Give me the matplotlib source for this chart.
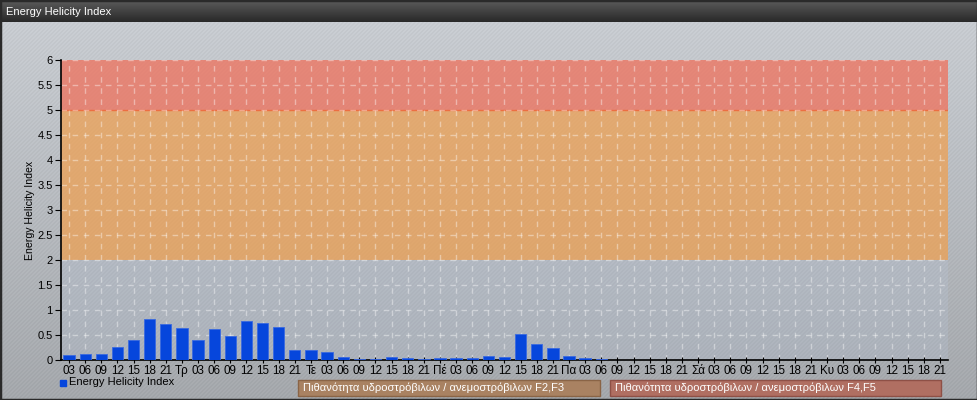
import numpy as np
import matplotlib
matplotlib.use("Agg")
import matplotlib.pyplot as plt
from matplotlib.patches import Rectangle

plt.rcParams['font.family'] = ['Liberation Sans', 'DejaVu Sans']

# ---- data ----
tick_labels = ["03", "06", "09", "12", "15", "18", "21", "Τρ",
               "03", "06", "09", "12", "15", "18", "21", "Τε",
               "03", "06", "09", "12", "15", "18", "21", "Πέ",
               "03", "06", "09", "12", "15", "18", "21", "Πα",
               "03", "06", "09", "12", "15", "18", "21", "Σά",
               "03", "06", "09", "12", "15", "18", "21", "Κυ",
               "03", "06", "09", "12", "15", "18", "21"]
values = [0.10, 0.12, 0.13, 0.26, 0.41, 0.83, 0.73, 0.64,
          0.40, 0.62, 0.49, 0.79, 0.75, 0.67, 0.20, 0.20,
          0.16, 0.07, 0.03, 0.03, 0.06, 0.05, 0.02, 0.04,
          0.04, 0.04, 0.09, 0.07, 0.53, 0.33, 0.25, 0.08,
          0.05, 0.02, 0.01, 0.01, 0.01, 0.01, 0.01, 0.01,
          0.01, 0.01, 0.01, 0.01, 0.01, 0.01, 0.01, 0.01,
          0.01, 0.01, 0.01, 0.01, 0.01, 0.01, 0.01]
series_name = "Energy Helicity Index"
title = "Energy Helicity Index"
band_labels = ["Πιθανότητα υδροστρόβιλων / ανεμοστρόβιλων F2,F3",
               "Πιθανότητα υδροστρόβιλων / ανεμοστρόβιλων F4,F5"]
yticks = [0, 0.5, 1, 1.5, 2, 2.5, 3, 3.5, 4, 4.5, 5, 5.5, 6]
ytick_labels = ["0", "0.5", "1", "1.5", "2", "2.5", "3", "3.5", "4", "4.5", "5", "5.5", "6"]

FS = 8.0
W, H = 978, 400
fig = plt.figure(figsize=(W / 100, H / 100), dpi=100)

def px_axes(x0, y0, x1, y1, **kw):
    return fig.add_axes([x0 / W, 1 - y1 / H, (x1 - x0) / W, (y1 - y0) / H], **kw)

# ---- background with gradient + diagonal stripes ----
bg = fig.add_axes([0, 0, 1, 1], zorder=-10)
yy, xx = np.mgrid[0:H, 0:W]
grad = 0.82 - 0.15 * (yy / H)
stripes = ((xx + yy) % 4 < 2) * 0.025
base = grad - stripes
rgb = np.stack([base * 0.98, base * 1.0, base * 1.025], axis=-1).clip(0, 1)
bg.imshow(rgb, extent=[0, W, H, 0], aspect='auto', interpolation='nearest')
bg.set_xlim(0, W); bg.set_ylim(H, 0); bg.axis('off')

# title bar
tb = px_axes(0, 0, W, 22, zorder=-5)
g = np.linspace(0.36, 0.16, 50)[:, None]
tb.imshow(np.dstack([g, g, g]), extent=[0, 1, 0, 1], aspect='auto')
tb.axis('off')
fig.text(6 / W, 1 - 12 / H, title, color='white', fontsize=FS, va='center', ha='left')

# outer border
fig.patches.append(Rectangle((0, 0), 1, 1, transform=fig.transFigure, fill=False,
                             edgecolor='#2a2a2a', linewidth=2.5))

# ---- main axes ----
ax = px_axes(61, 60, 948, 360)
ax.patch.set_alpha(0)
n = len(values)
x = np.arange(n)
ax.set_xlim(-0.5, n - 0.5)
ax.set_ylim(0, 6)

ax.axhspan(0, 2, color='#b8c6dc', alpha=0.25, lw=0, zorder=0)
ax.axhspan(2, 5, color='#f0a050', alpha=0.72, lw=0, zorder=0)
ax.axhspan(5, 6, color='#ee7460', alpha=0.78, lw=0, zorder=0)
ax.axhline(5, color='#ec6e42', lw=1, zorder=1)

for xi in x:
    ax.axvline(xi, color='white', alpha=0.4, lw=1, ls=(0, (4, 4)), zorder=1)
for yv in yticks[1:]:
    ax.axhline(yv, color='white', alpha=0.4, lw=1, ls=(0, (4, 4)), zorder=1)

ax.bar(x, values, width=0.7, color='#0646dc', edgecolor='#3a6ae0', linewidth=0.6, zorder=3)

ax.set_xticks(x)
ax.set_xticklabels(tick_labels)
ax.set_yticks(yticks)
ax.set_yticklabels(ytick_labels)
ax.tick_params(axis='x', direction='inout', length=5, width=0.8, pad=1, labelsize=FS + 0.4, colors='black')
ax.tick_params(axis='y', direction='out', length=4, width=0.8, pad=2, labelsize=FS)
for s in ['top', 'right']:
    ax.spines[s].set_visible(False)
ax.spines['left'].set_color('black')
ax.spines['bottom'].set_color('black')
ax.spines['left'].set_linewidth(1.2)
ax.spines['bottom'].set_linewidth(1.2)
ax.set_ylabel(series_name, fontsize=7.6)
ax.yaxis.set_label_coords(-26 / 887, 0.5)

# ---- legend / band labels ----
fig.patches.append(Rectangle((60 / W, 1 - 386 / H), 6 / W, 6 / H, transform=fig.transFigure,
                             facecolor='#0646dc', edgecolor='#0646dc'))
fig.text(69 / W, 1 - 382 / H, series_name, fontsize=FS, va='center', ha='left')

boxes = [(298, 600, '#a98262', '#8a6446'), (610, 941, '#b06f62', '#8e5046')]
for (x0, x1, fc, ec), lab in zip(boxes, band_labels):
    fig.patches.append(Rectangle((x0 / W, 1 - 396 / H), (x1 - x0) / W, 16 / H,
                                 transform=fig.transFigure, facecolor=fc, edgecolor=ec, lw=1))
    fig.text((x0 + 5) / W, 1 - 388 / H, lab, fontsize=FS, color='white', va='center', ha='left')

fig.savefig('out.png', dpi=100)
